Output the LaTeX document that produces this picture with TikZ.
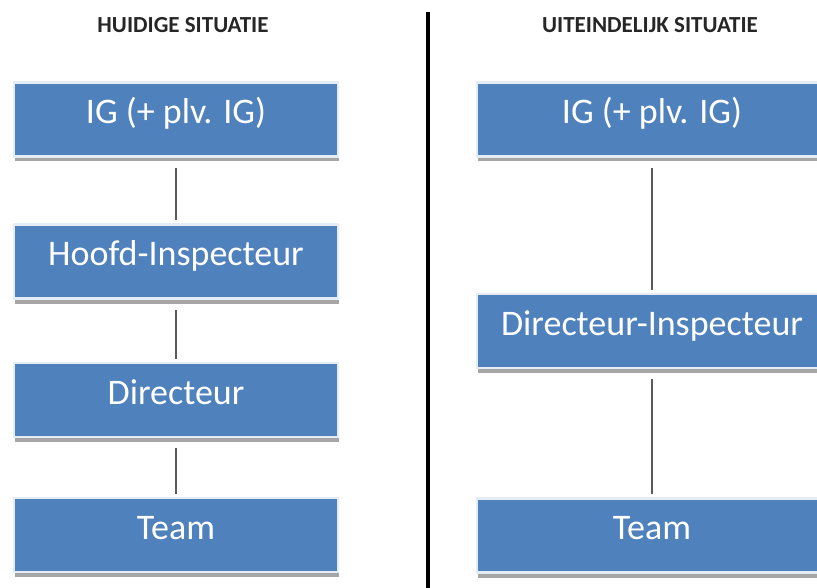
\documentclass[tikz,border=0pt]{standalone}
\usepackage{fontspec}
\setmainfont{Carlito}
\usepackage{tikz}
\usetikzlibrary{shadows}
\definecolor{boxblue}{HTML}{4F81BD}
\definecolor{boxrim}{HTML}{E4ECF6}
\definecolor{linegray}{HTML}{5A5A5A}
\begin{document}
\begin{tikzpicture}[x=1pt,y=-1pt]
		\tikzstyle{OrgBox}=[rectangle,fill=boxblue,draw=boxrim,line width=2.5pt,
			text=white,font=\fontsize{36}{40}\selectfont,minimum height=74pt,
			text height=28pt,text depth=20pt,
			drop shadow={shadow xshift=1pt,shadow yshift=-5pt,fill=black,opacity=.35}]
		\tikzstyle{OrgTitle}=[font=\bfseries\fontsize{23}{26}\selectfont,text=black!85]
		\tikzstyle{OrgLine}=[draw=linegray,line width=1.3pt,shorten <=10pt,shorten >=3pt]
		\useasboundingbox (0,0) rectangle (817,588);
		\clip (0,0) rectangle (817,588);
		% huidige situatie
		\node[OrgTitle] (titleL) at (183,25) {HUIDIGE SITUATIE};
		\node[OrgBox,minimum width=324pt] (igL)   at (176,119.5) {IG (+ plv. IG)};
		\node[OrgBox,minimum width=324pt] (hiL)   at (176,261.5) {Hoofd-Inspecteur};
		\node[OrgBox,minimum width=324pt] (dirL)  at (176,400)   {Directeur};
		\node[OrgBox,minimum width=324pt] (teamL) at (176,535)   {Team};
		\draw[OrgLine] (igL.south) -- (hiL.north);
		\draw[OrgLine] (hiL.south) -- (dirL.north);
		\draw[OrgLine] (dirL.south) -- (teamL.north);
		% scheiding
		\coordinate (sepTop) at (428,12);
		\coordinate (sepBot) at (428,588);
		\draw[line width=4pt,black] (sepTop) -- (sepBot);
		% uiteindelijk situatie
		\node[OrgTitle] (titleR) at (650,25) {UITEINDELIJK SITUATIE};
		\node[OrgBox,minimum width=350pt] (igR)   at (652,119.5) {IG (+ plv. IG)};
		\node[OrgBox,minimum width=350pt] (diR)   at (652,331)   {Directeur-Inspecteur};
		\node[OrgBox,minimum width=350pt] (teamR) at (652,535.5) {Team};
		\draw[OrgLine] (igR.south) -- (diR.north);
		\draw[OrgLine] (diR.south) -- (teamR.north);
	\end{tikzpicture}
\end{document}
